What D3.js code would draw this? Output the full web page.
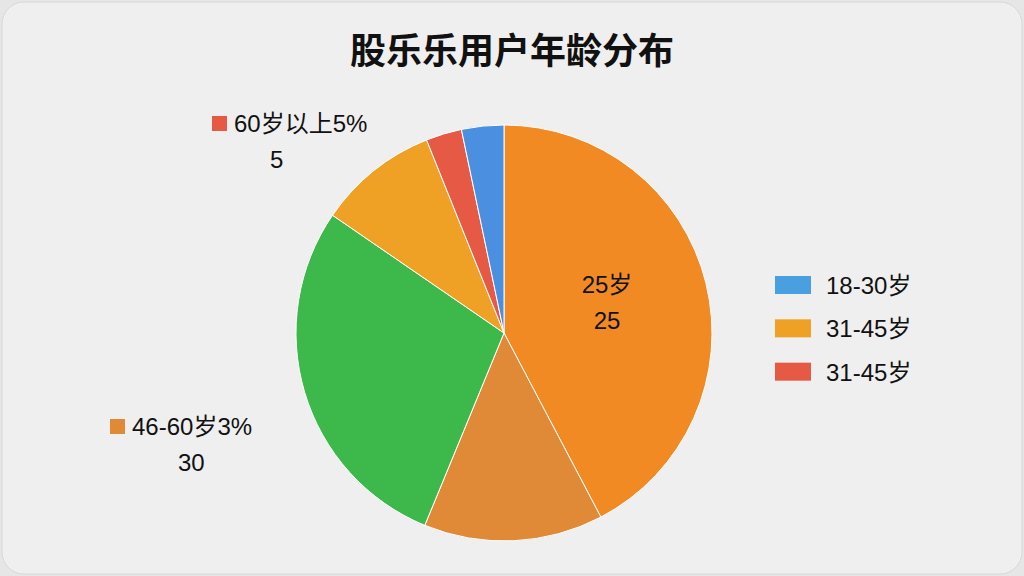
<!DOCTYPE html>
<html><head><meta charset="utf-8">
<script src="https://cdn.jsdelivr.net/npm/d3@7"></script>
<style>body{margin:0;background:#e6e6e6;font-family:"Liberation Sans","Noto Sans CJK SC",sans-serif}</style>
</head><body><svg id="c" width="1024" height="576"></svg>
<script>
const categories = ["25岁", "46-60岁a", "46-60岁", "31-45岁", "60岁以上", "18-30岁"];
const values = [42.5, 14, 28.5, 9.4, 2.8, 3.3];
const colors = ["#F28A24", "#E08A38", "#3DB84A", "#EFA126", "#E65A45", "#4A8FE0"];
const legendLabels = ["18-30岁", "31-45岁", "31-45岁"];
const legendColors = ["#4A9FE0", "#EFA126", "#E65A45"];
const outLabels = [
  {t1:"60岁以上5%", t2:"5", x:234, y:132, t2x:270, c:"#E65A45"},
  {t1:"46-60岁3%", t2:"30", x:132, y:435, t2x:178, c:"#E08A38"}
];
const svg = d3.select("#c");
svg.append("rect").attr("x",2).attr("y",2).attr("width",1020).attr("height",572).attr("rx",22)
  .attr("fill","#efefef").attr("stroke","#d8d8d8");
svg.append("text").attr("x",512).attr("y",64).attr("text-anchor","middle")
  .attr("font-size",36).attr("font-weight","bold").attr("fill","#111").text("股乐乐用户年龄分布");
const cx=504, cy=333, r=208;
const pie=d3.pie().sort(null).value(d=>d)(values);
const arc=d3.arc().innerRadius(0).outerRadius(r);
const g=svg.append("g").attr("transform",`translate(${cx},${cy})`);
g.selectAll("path").data(pie).enter().append("path").attr("d",arc)
  .attr("fill",(d,i)=>colors[i]).attr("stroke","#fff").attr("stroke-width",1);
const t=svg.append("text").attr("text-anchor","middle").attr("font-size",24).attr("fill","#111");
t.append("tspan").attr("x",607).attr("y",293).text("25岁");
t.append("tspan").attr("x",607).attr("y",329).text("25");
outLabels.forEach(o=>{
  svg.append("rect").attr("x",o.x-22).attr("y",o.y-16).attr("width",15).attr("height",15).attr("fill",o.c);
  svg.append("text").attr("x",o.x).attr("y",o.y).attr("font-size",24).attr("fill","#111").text(o.t1);
  svg.append("text").attr("x",o.t2x).attr("y",o.y+36).attr("font-size",24).attr("fill","#111").text(o.t2);
});
const ly=d3.scaleBand().domain(d3.range(legendLabels.length)).range([268,398]);
legendLabels.forEach((l,i)=>{
  svg.append("rect").attr("x",775).attr("y",ly(i)+8).attr("width",36).attr("height",18).attr("fill",legendColors[i]);
  svg.append("text").attr("x",826).attr("y",ly(i)+26).attr("font-size",24).attr("fill","#111").text(l);
});
</script></body></html>
